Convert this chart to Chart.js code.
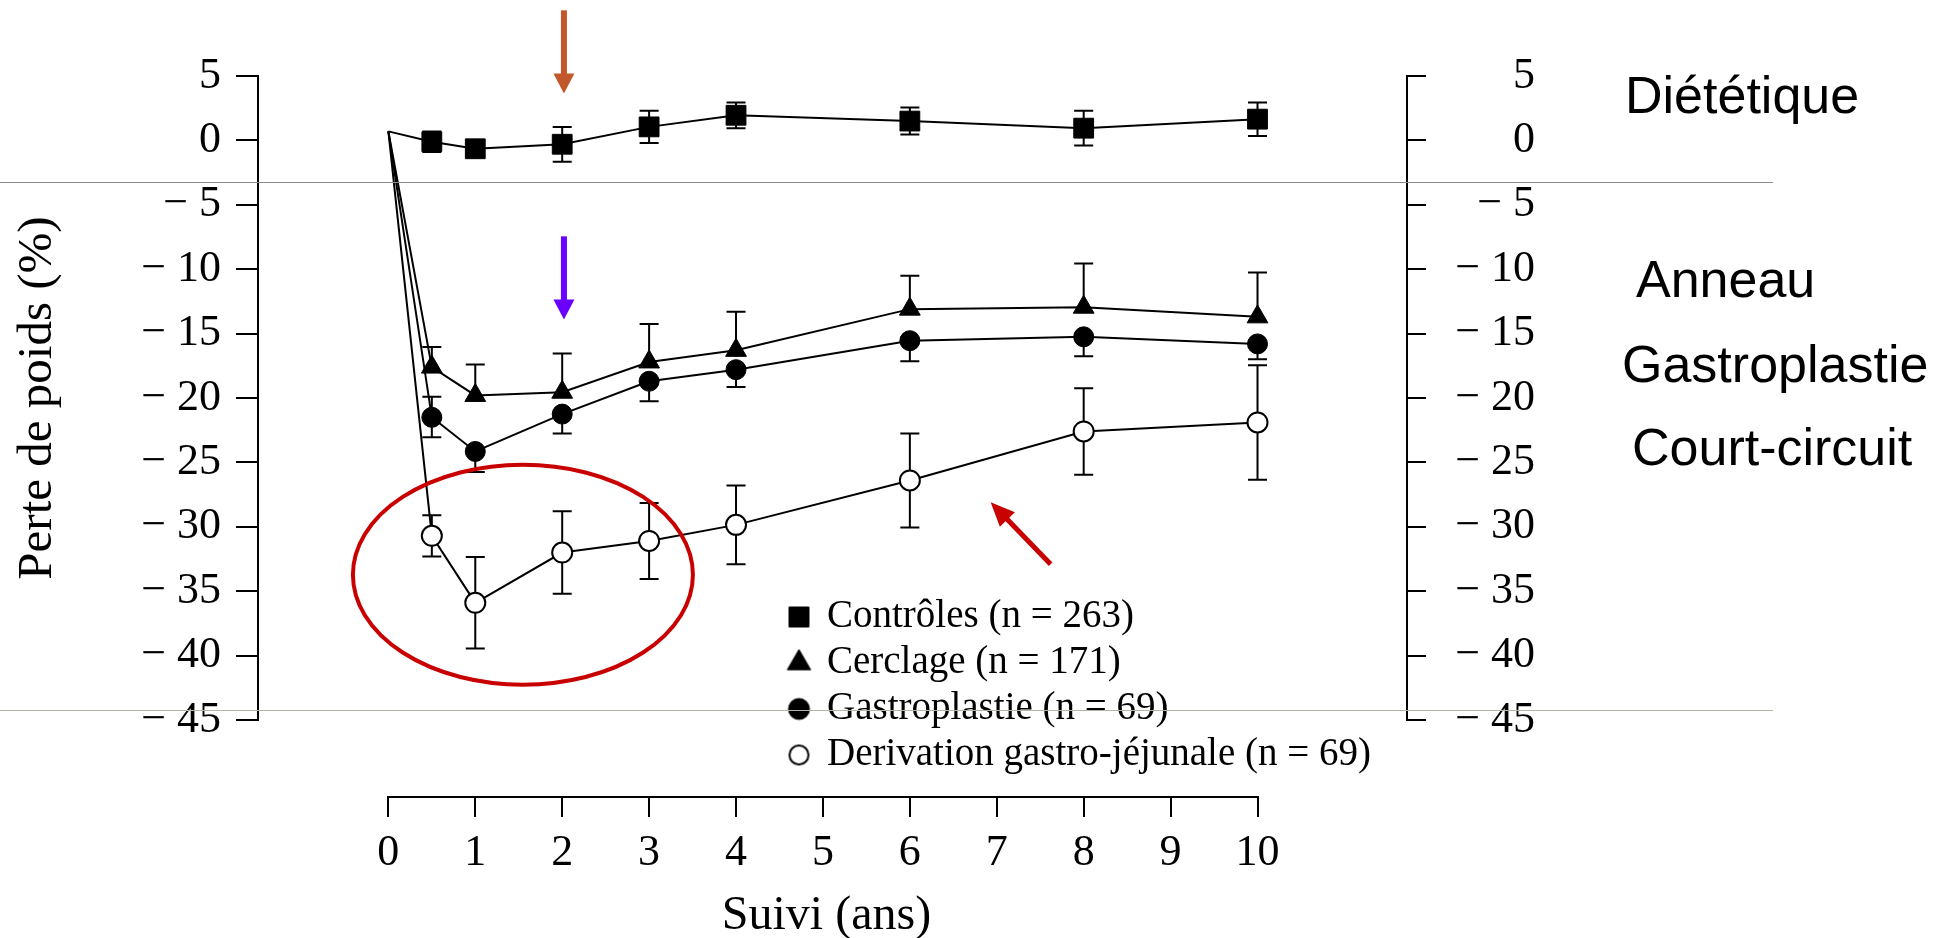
<!DOCTYPE html>
<html lang="fr">
<head>
<meta charset="utf-8">
<title>Perte de poids selon le traitement</title>
<script src="https://cdn.jsdelivr.net/npm/chart.js@4.4.1/dist/chart.umd.min.js"></script>
<style>
  html, body { margin: 0; padding: 0; background: #ffffff; }
  #box { position: relative; width: 1957px; height: 938px; }
  canvas { display: block; }
</style>
</head>
<body>
<div id="box"><canvas id="chart" width="1957" height="938"></canvas></div>
<script>
// Follow-up times (years)
const years = [0, 0.5, 1, 2, 3, 4, 6, 8, 10];

// Mean weight change (%) per group
const controles     = [0.7, -0.1, -0.65, -0.3, 1.05, 1.95, 1.5, 0.95, 1.65];
const cerclage      = [0.7, -17.6, -19.8, -19.55, -17.2, -16.3, -13.1, -12.95, -13.7];
const gastroplastie = [0.7, -21.5, -24.15, -21.25, -18.7, -17.8, -15.55, -15.25, -15.8];
const derivation    = [0.7, -30.7, -35.9, -32.0, -31.1, -29.85, -26.4, -22.6, -21.9];

// Error bar half-lengths, above and below each mean
const controlesErr   = [0, 0.8, 0.5, 1.35, 1.25, 1.0, 1.05, 1.35, 1.3];
const cerclageErrUp  = [0, 1.55, 2.4, 3.0, 2.95, 3.0, 2.6, 3.4, 3.45];
const cerclageErrDn  = [0, 0, 0, 0, 0, 0, 0, 0, 0];
const gastroErrUp    = [0, 1.6, 0, 0, 0, 0, 0, 0, 0];
const gastroErrDn    = [0, 1.55, 1.6, 1.5, 1.55, 1.35, 1.6, 1.5, 1.2];
const derivationErr  = [0, 1.6, 3.55, 3.2, 2.95, 3.05, 3.65, 3.35, 4.45];

// Legend entries
const seriesLabels = [
  'Contrôles (n = 263)',
  'Cerclage (n = 171)',
  'Gastroplastie (n = 69)',
  'Derivation gastro-jéjunale (n = 69)'
];

// Axis ticks and titles
const xTicks = [0, 1, 2, 3, 4, 5, 6, 7, 8, 9, 10];
const yTicks = [5, 0, -5, -10, -15, -20, -25, -30, -35, -40, -45];
const xTitle = 'Suivi (ans)';
const yTitle = 'Perte de poids (%)';

// Group names written to the right of the plot
const groupNames = ['Diététique', 'Anneau', 'Gastroplastie', 'Court-circuit'];

const SERIF = "'Liberation Serif', 'Times New Roman', serif";
const SANS = "'Liberation Sans', Arial, sans-serif";

const errorBars = [
  { up: controlesErr, down: controlesErr },
  { up: cerclageErrUp, down: cerclageErrDn },
  { up: gastroErrUp, down: gastroErrDn },
  { up: derivationErr, down: derivationErr }
];

// Legend marker sizes (point radius per series)
const legendRadius = [14.1, 13.5, 10.5, 9.5];

function series(label, values, style, radius, fill, borderW) {
  return {
    label,
    data: years.map((x, i) => ({ x, y: values[i] })),
    borderColor: '#000',
    borderWidth: 2,
    tension: 0,
    fill: false,
    pointStyle: style,
    pointRadius: years.map((_, i) => (i === 0 ? 0 : radius)),
    pointHoverRadius: years.map((_, i) => (i === 0 ? 0 : radius)),
    pointBackgroundColor: fill,
    pointBorderColor: '#000',
    pointBorderWidth: borderW,
    xAxisID: 'x',
    yAxisID: 'y'
  };
}

const fmtY = v => (v < 0 ? '\u2212 ' + Math.abs(v) : String(v));

// Legend markers rendered with Chart.js' own point drawing at a chosen radius
function markerCanvas(item, radius) {
  const size = Math.ceil(radius * 2 + 6);
  const c = document.createElement('canvas');
  c.width = size;
  c.height = size;
  const g = c.getContext('2d');
  g.fillStyle = item.fillStyle;
  g.strokeStyle = item.strokeStyle;
  g.lineWidth = item.lineWidth;
  Chart.helpers.drawPoint(g, { pointStyle: item.pointStyle, radius, borderWidth: item.lineWidth, rotation: 0 }, size / 2, size / 2);
  return c;
}

// Drawing helpers for the annotation layer
function arrow(ctx, x1, y1, x2, y2, shaft, headL, headW, color) {
  const dx = x2 - x1, dy = y2 - y1;
  const len = Math.hypot(dx, dy);
  const ux = dx / len, uy = dy / len;
  const bx = x2 - ux * headL, by = y2 - uy * headL;
  ctx.save();
  ctx.strokeStyle = color;
  ctx.fillStyle = color;
  ctx.lineWidth = shaft;
  ctx.lineCap = 'butt';
  ctx.beginPath();
  ctx.moveTo(x1, y1);
  ctx.lineTo(bx + ux, by + uy);
  ctx.stroke();
  ctx.beginPath();
  ctx.moveTo(x2, y2);
  ctx.lineTo(bx - uy * headW / 2, by + ux * headW / 2);
  ctx.lineTo(bx + uy * headW / 2, by - ux * headW / 2);
  ctx.closePath();
  ctx.fill();
  ctx.restore();
}

const decorations = {
  id: 'decorations',
  afterLayout(chart) {
    // legend block sits inside the plot, under the curves
    const lg = chart.legend;
    if (!lg) return;
    lg.left = 783.5;
    lg.top = 590.5;
    lg.width = 660;
    lg.height = 200;
    lg.right = lg.left + lg.width;
    lg.bottom = lg.top + lg.height;
  },
  beforeDatasetsDraw(chart) {
    const { ctx, scales: { x, y } } = chart;
    ctx.save();
    ctx.strokeStyle = '#000';
    ctx.lineWidth = 2;
    // time axis line, drawn only over the 0–10 year span
    const yb = x.top + 1;
    ctx.beginPath();
    ctx.moveTo(x.getPixelForValue(xTicks[0]) - 1, yb);
    ctx.lineTo(x.getPixelForValue(xTicks[xTicks.length - 1]) + 1, yb);
    ctx.stroke();
    // error bars with caps
    const cap = 9.5;
    errorBars.forEach((eb, d) => {
      chart.data.datasets[d].data.forEach((p, i) => {
        const px = x.getPixelForValue(p.x);
        const py = y.getPixelForValue(p.y);
        [[eb.up[i], 1], [eb.down[i], -1]].forEach(([e, s]) => {
          if (!e) return;
          const pe = y.getPixelForValue(p.y + s * e);
          ctx.beginPath();
          ctx.moveTo(px, py);
          ctx.lineTo(px, pe);
          ctx.moveTo(px - cap, pe);
          ctx.lineTo(px + cap, pe);
          ctx.stroke();
        });
      });
    });
    ctx.restore();
  },
  afterDraw(chart) {
    const { ctx, scales: { x, y } } = chart;
    ctx.save();
    // thin horizontal rules across the slide
    ctx.fillStyle = '#8c8c86';
    ctx.fillRect(0, Math.round(y.getPixelForValue(-3.2)), 1773, 1);
    ctx.fillStyle = '#b4b4a8';
    ctx.fillRect(0, Math.round(y.getPixelForValue(-44.2)), 1773, 1);

    // arrows pointing at the 2-year follow-up
    arrow(ctx, x.getPixelForValue(2.02), y.getPixelForValue(10.1),
               x.getPixelForValue(2.02), y.getPixelForValue(3.65), 6, 20, 21, '#C0582C');
    arrow(ctx, x.getPixelForValue(2.02), y.getPixelForValue(-7.45),
               x.getPixelForValue(2.02), y.getPixelForValue(-13.9), 6, 20, 21, '#6A00FF');
    // arrow toward the gastric bypass curve
    arrow(ctx, x.getPixelForValue(7.62), y.getPixelForValue(-32.9),
               x.getPixelForValue(6.93), y.getPixelForValue(-28.1), 5, 24, 21, '#C80000');

    // ellipse around the early bypass results
    const cx = x.getPixelForValue(1.548), cy = y.getPixelForValue(-33.72);
    const rx = x.getPixelForValue(1.548 + 1.956) - cx;
    const ry = y.getPixelForValue(-33.72 - 8.54) - cy;
    ctx.strokeStyle = '#C80000';
    ctx.lineWidth = 4;
    ctx.beginPath();
    ctx.ellipse(cx, cy, rx, ry, 0, 0, Math.PI * 2);
    ctx.stroke();

    // group names
    ctx.fillStyle = '#000';
    ctx.font = '52px ' + SANS;
    ctx.textAlign = 'left';
    ctx.textBaseline = 'alphabetic';
    const namePos = [[1625, 113], [1636, 297], [1622, 382], [1632, 465]];
    groupNames.forEach((t, i) => ctx.fillText(t, namePos[i][0], namePos[i][1]));
    ctx.restore();
  }
};

const yScaleBase = {
  type: 'linear',
  min: -45,
  max: 5,
  afterBuildTicks: s => { s.ticks = yTicks.map(v => ({ value: v })); },
  border: { display: true, color: '#000', width: 2 },
  ticks: {
    color: '#000',
    font: { family: SERIF, size: 44, lineHeight: 1.2 },
    callback: fmtY
  }
};

new Chart(document.getElementById('chart'), {
  type: 'line',
  data: {
    datasets: [
      series(seriesLabels[0], controles, 'rect', 14, '#000', 1),
      series(seriesLabels[1], cerclage, 'triangle', 12, '#000', 1),
      series(seriesLabels[2], gastroplastie, 'circle', 10, '#000', 1),
      series(seriesLabels[3], derivation, 'circle', 10, '#fff', 2)
    ]
  },
  options: {
    responsive: false,
    devicePixelRatio: 1,
    animation: false,
    events: [],
    layout: { padding: { top: 76, right: 422, bottom: 0, left: 0 } },
    plugins: {
      tooltip: { enabled: false },
      legend: {
        position: 'chartArea',
        align: 'start',
        fullSize: false,
        labels: {
          usePointStyle: true,
          boxWidth: 17,
          boxHeight: 17,
          padding: 7,
          color: '#000',
          font: { family: SERIF, size: 39 },
          generateLabels(chart) {
            const items = Chart.defaults.plugins.legend.labels.generateLabels(chart);
            items.forEach((it, i) => { it.pointStyle = markerCanvas(it, legendRadius[i]); });
            return items;
          }
        }
      }
    },
    scales: {
      gap: {
        type: 'linear',
        position: 'bottom',
        weight: 0,
        grid: { display: false },
        border: { display: false },
        ticks: { display: false },
        afterFit: s => { s.height = 76; }
      },
      x: {
        type: 'linear',
        position: 'bottom',
        weight: 1,
        min: -1.5,
        max: 11.72,
        afterBuildTicks: s => { s.ticks = xTicks.map(v => ({ value: v })); },
        afterFit: s => { s.height = 142; },
        grid: { drawOnChartArea: false, drawTicks: true, tickLength: 21, color: '#000', lineWidth: 2 },
        border: { display: false },
        ticks: {
          color: '#000',
          autoSkip: false,
          maxRotation: 0,
          padding: 10,
          font: { family: SERIF, size: 44, lineHeight: 1.2 },
          callback: v => String(v)
        },
        title: {
          display: true,
          text: xTitle + '\u00a0',
          color: '#000',
          font: { family: SERIF, size: 48, lineHeight: 0.92 },
          padding: { top: 0, bottom: 0 }
        }
      },
      y: Object.assign({}, yScaleBase, {
        position: 'left',
        afterFit: s => { s.width = 258; },
        grid: { drawOnChartArea: false, tickLength: 22, color: '#000', lineWidth: 2 },
        ticks: Object.assign({}, yScaleBase.ticks, { padding: 15 }),
        title: {
          display: true,
          text: yTitle,
          color: '#000',
          font: { family: SERIF, size: 49, lineHeight: 1.2 },
          padding: { top: 9, bottom: 0 }
        }
      }),
      y2: Object.assign({}, yScaleBase, {
        position: 'right',
        afterFit: s => { s.width = 128; },
        grid: { drawOnChartArea: false, tickLength: 19, color: '#000', lineWidth: 2 },
        ticks: Object.assign({}, yScaleBase.ticks, { crossAlign: 'far', padding: 20 })
      })
    }
  },
  plugins: [decorations]
});
</script>
</body>
</html>
